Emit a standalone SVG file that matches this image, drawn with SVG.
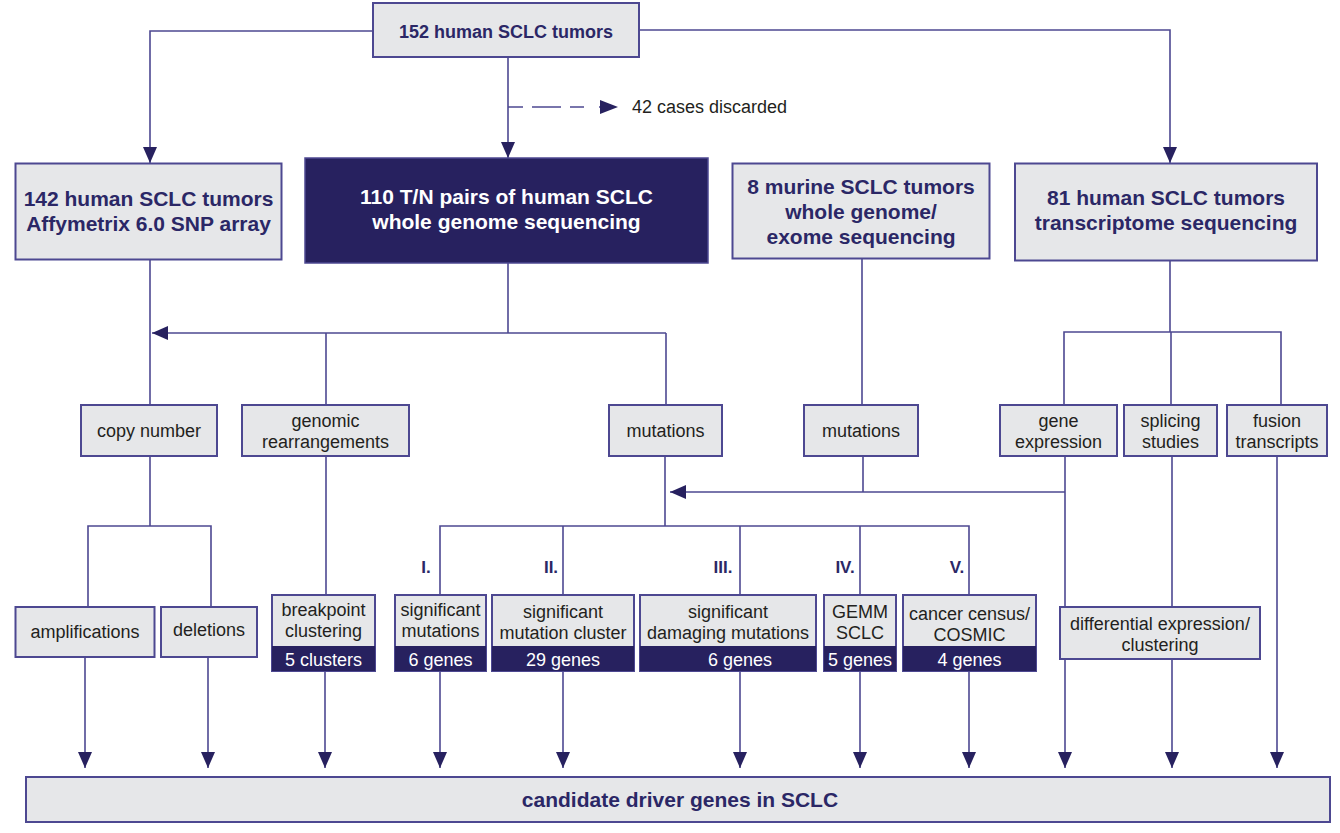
<svg xmlns="http://www.w3.org/2000/svg" width="1340" height="833" viewBox="0 0 1340 833">
<defs>
<marker id="arr" viewBox="0 0 16 14" refX="16" refY="7" markerWidth="16" markerHeight="14" markerUnits="userSpaceOnUse" orient="auto">
<path d="M0,0 L16,7 L0,14 z" fill="#27215f"/>
</marker>
<style>
.ln{fill:none;stroke:#4d4891;stroke-width:1.6}
.ar{fill:none;stroke:#4d4891;stroke-width:1.6;marker-end:url(#arr)}
.bx{fill:#e6e7e9;stroke:#4d4891;stroke-width:2}
.dk{fill:#27215f;stroke:#4d4891;stroke-width:1.5}
.band{fill:#27215f}
.t{font-family:"Liberation Sans",Arial,sans-serif;font-size:18px;fill:#231f20;text-anchor:middle}
.tw{font-family:"Liberation Sans",Arial,sans-serif;font-size:18px;fill:#ffffff;text-anchor:middle}
.b{font-family:"Liberation Sans",Arial,sans-serif;font-size:21px;font-weight:bold;fill:#2b2766;text-anchor:middle}
.bw{font-family:"Liberation Sans",Arial,sans-serif;font-size:21px;font-weight:bold;fill:#ffffff;text-anchor:middle}
.r{font-family:"Liberation Sans",Arial,sans-serif;font-size:17px;font-weight:bold;fill:#2b2766;text-anchor:middle}
</style>
</defs>
<rect width="1340" height="833" fill="#ffffff"/>

<g id="connectors">
<path class="ar" d="M373,31 H150 V163"/>
<path class="ar" d="M639,30 H1170 V163"/>
<path class="ar" d="M508,57 V158"/>
<path class="ln" d="M508,107 H600" stroke-dasharray="15 9 29 9 14"/>
<path d="M600,100 L618,107 L600,114 z" fill="#27215f"/>
<path class="ln" d="M150,259 V405"/>
<path class="ln" d="M508,263 V333"/>
<path class="ar" d="M666,333 H152"/>
<path class="ln" d="M326,333 V405"/>
<path class="ln" d="M666,333 V405"/>
<path class="ln" d="M862,258 V405"/>
<path class="ln" d="M1170,261 V332"/>
<path class="ln" d="M1064,405 V332 H1281 V405"/>
<path class="ln" d="M1171,332 V405"/>
<path class="ln" d="M150,456 V526"/>
<path class="ln" d="M88,607 V526 H211 V607"/>
<path class="ln" d="M326,456 V595"/>
<path class="ln" d="M665,456 V526"/>
<path class="ln" d="M440,595 V526 H969 V595"/>
<path class="ln" d="M563,526 V595"/>
<path class="ln" d="M740,526 V595"/>
<path class="ln" d="M860,526 V595"/>
<path class="ln" d="M863,456 V492"/>
<path class="ar" d="M1065,492 H670"/>
<path class="ar" d="M85,657 V768"/>
<path class="ar" d="M208,657 V768"/>
<path class="ar" d="M325,671 V768"/>
<path class="ar" d="M440,671 V768"/>
<path class="ar" d="M563,671 V768"/>
<path class="ar" d="M740,671 V768"/>
<path class="ar" d="M860,671 V768"/>
<path class="ar" d="M969,671 V768"/>
<path class="ar" d="M1065,456 V768"/>
<path class="ar" d="M1172,456 V768"/>
<path class="ar" d="M1277,456 V768"/>
</g>

<g id="n_top"><rect class="bx" x="373" y="3" width="266" height="54"/><text class="b" style="font-size:18px" x="506" y="38">152 human SCLC tumors</text></g>
<text class="t" x="632" y="113" style="text-anchor:start">42 cases discarded</text>

<g id="n_affy"><rect class="bx" x="15.5" y="163.5" width="266" height="96"/><text class="b" x="148.5" y="206">142 human SCLC tumors</text><text class="b" x="148.5" y="231">Affymetrix 6.0 SNP array</text></g>
<g id="n_wgs"><rect class="dk" x="305" y="158" width="403" height="105"/><text class="bw" x="506.5" y="204">110 T/N pairs of human SCLC</text><text class="bw" x="506.5" y="229">whole genome sequencing</text></g>
<g id="n_murine"><rect class="bx" x="732.5" y="163.5" width="257" height="95"/><text class="b" x="861" y="194">8 murine SCLC tumors</text><text class="b" x="861" y="219">whole genome/</text><text class="b" x="861" y="244">exome sequencing</text></g>
<g id="n_trans"><rect class="bx" x="1015" y="163.5" width="302" height="97"/><text class="b" x="1166" y="205">81 human SCLC tumors</text><text class="b" x="1166" y="230">transcriptome sequencing</text></g>

<g id="n_copy"><rect class="bx" x="81" y="405" width="136" height="51"/><text class="t" x="149" y="437">copy number</text></g>
<g id="n_genomic"><rect class="bx" x="242" y="405" width="167" height="51"/><text class="t" x="325.5" y="427">genomic</text><text class="t" x="325.5" y="448">rearrangements</text></g>
<g id="n_mut"><rect class="bx" x="609" y="405" width="113" height="51"/><text class="t" x="665.5" y="437">mutations</text></g>
<g id="n_mmut"><rect class="bx" x="804" y="405" width="114" height="51"/><text class="t" x="861" y="437">mutations</text></g>
<g id="n_gene"><rect class="bx" x="1000" y="405" width="117" height="51"/><text class="t" x="1058.5" y="427">gene</text><text class="t" x="1058.5" y="448">expression</text></g>
<g id="n_splice"><rect class="bx" x="1124" y="405" width="93" height="51"/><text class="t" x="1170.5" y="427">splicing</text><text class="t" x="1170.5" y="448">studies</text></g>
<g id="n_fusion"><rect class="bx" x="1227" y="405" width="100" height="51"/><text class="t" x="1277" y="427">fusion</text><text class="t" x="1277" y="448">transcripts</text></g>

<g id="n_amp"><rect class="bx" x="15.5" y="607" width="139" height="50"/><text class="t" x="85" y="638">amplifications</text></g>
<g id="n_del"><rect class="bx" x="161" y="607" width="96" height="50"/><text class="t" x="209" y="636">deletions</text></g>

<g id="n_bp"><rect class="bx" x="272" y="595" width="103" height="76"/><rect class="band" x="272" y="646" width="103" height="25"/><text class="t" x="323.5" y="616">breakpoint</text><text class="t" x="323.5" y="637">clustering</text><text class="tw" x="323.5" y="666">5 clusters</text></g>
<g id="n_sig"><text class="r" x="426" y="573">I.</text><rect class="bx" x="395" y="595" width="91" height="76"/><rect class="band" x="395" y="646" width="91" height="25"/><text class="t" x="440.5" y="616">significant</text><text class="t" x="440.5" y="637">mutations</text><text class="tw" x="440.5" y="666">6 genes</text></g>
<g id="n_smc"><text class="r" x="551" y="573">II.</text><rect class="bx" x="492" y="595" width="142" height="76"/><rect class="band" x="492" y="646" width="142" height="25"/><text class="t" x="563" y="618">significant</text><text class="t" x="563" y="639">mutation cluster</text><text class="tw" x="563" y="666">29 genes</text></g>
<g id="n_sdm"><text class="r" x="723" y="573">III.</text><rect class="bx" x="640" y="595" width="176" height="76"/><rect class="band" x="640" y="646" width="176" height="25"/><text class="t" x="728" y="618">significant</text><text class="t" x="728" y="639">damaging mutations</text><text class="tw" x="740" y="666">6 genes</text></g>
<g id="n_gemm"><text class="r" x="845" y="573">IV.</text><rect class="bx" x="824" y="595" width="72" height="76"/><rect class="band" x="824" y="646" width="72" height="25"/><text class="t" x="860" y="618">GEMM</text><text class="t" x="860" y="639">SCLC</text><text class="tw" x="860" y="666">5 genes</text></g>
<g id="n_cosmic"><text class="r" x="957" y="573">V.</text><rect class="bx" x="903" y="595" width="133" height="76"/><rect class="band" x="903" y="646" width="133" height="25"/><text class="t" x="969.5" y="620">cancer census/</text><text class="t" x="969.5" y="641">COSMIC</text><text class="tw" x="969.5" y="666">4 genes</text></g>
<g id="n_diff"><rect class="bx" x="1060" y="607" width="200" height="52"/><text class="t" x="1160" y="630">differential expression/</text><text class="t" x="1160" y="651">clustering</text></g>

<g id="n_final"><rect class="bx" x="26" y="777" width="1304" height="45"/><text class="b" x="680" y="807">candidate driver genes in SCLC</text></g>
</svg>
